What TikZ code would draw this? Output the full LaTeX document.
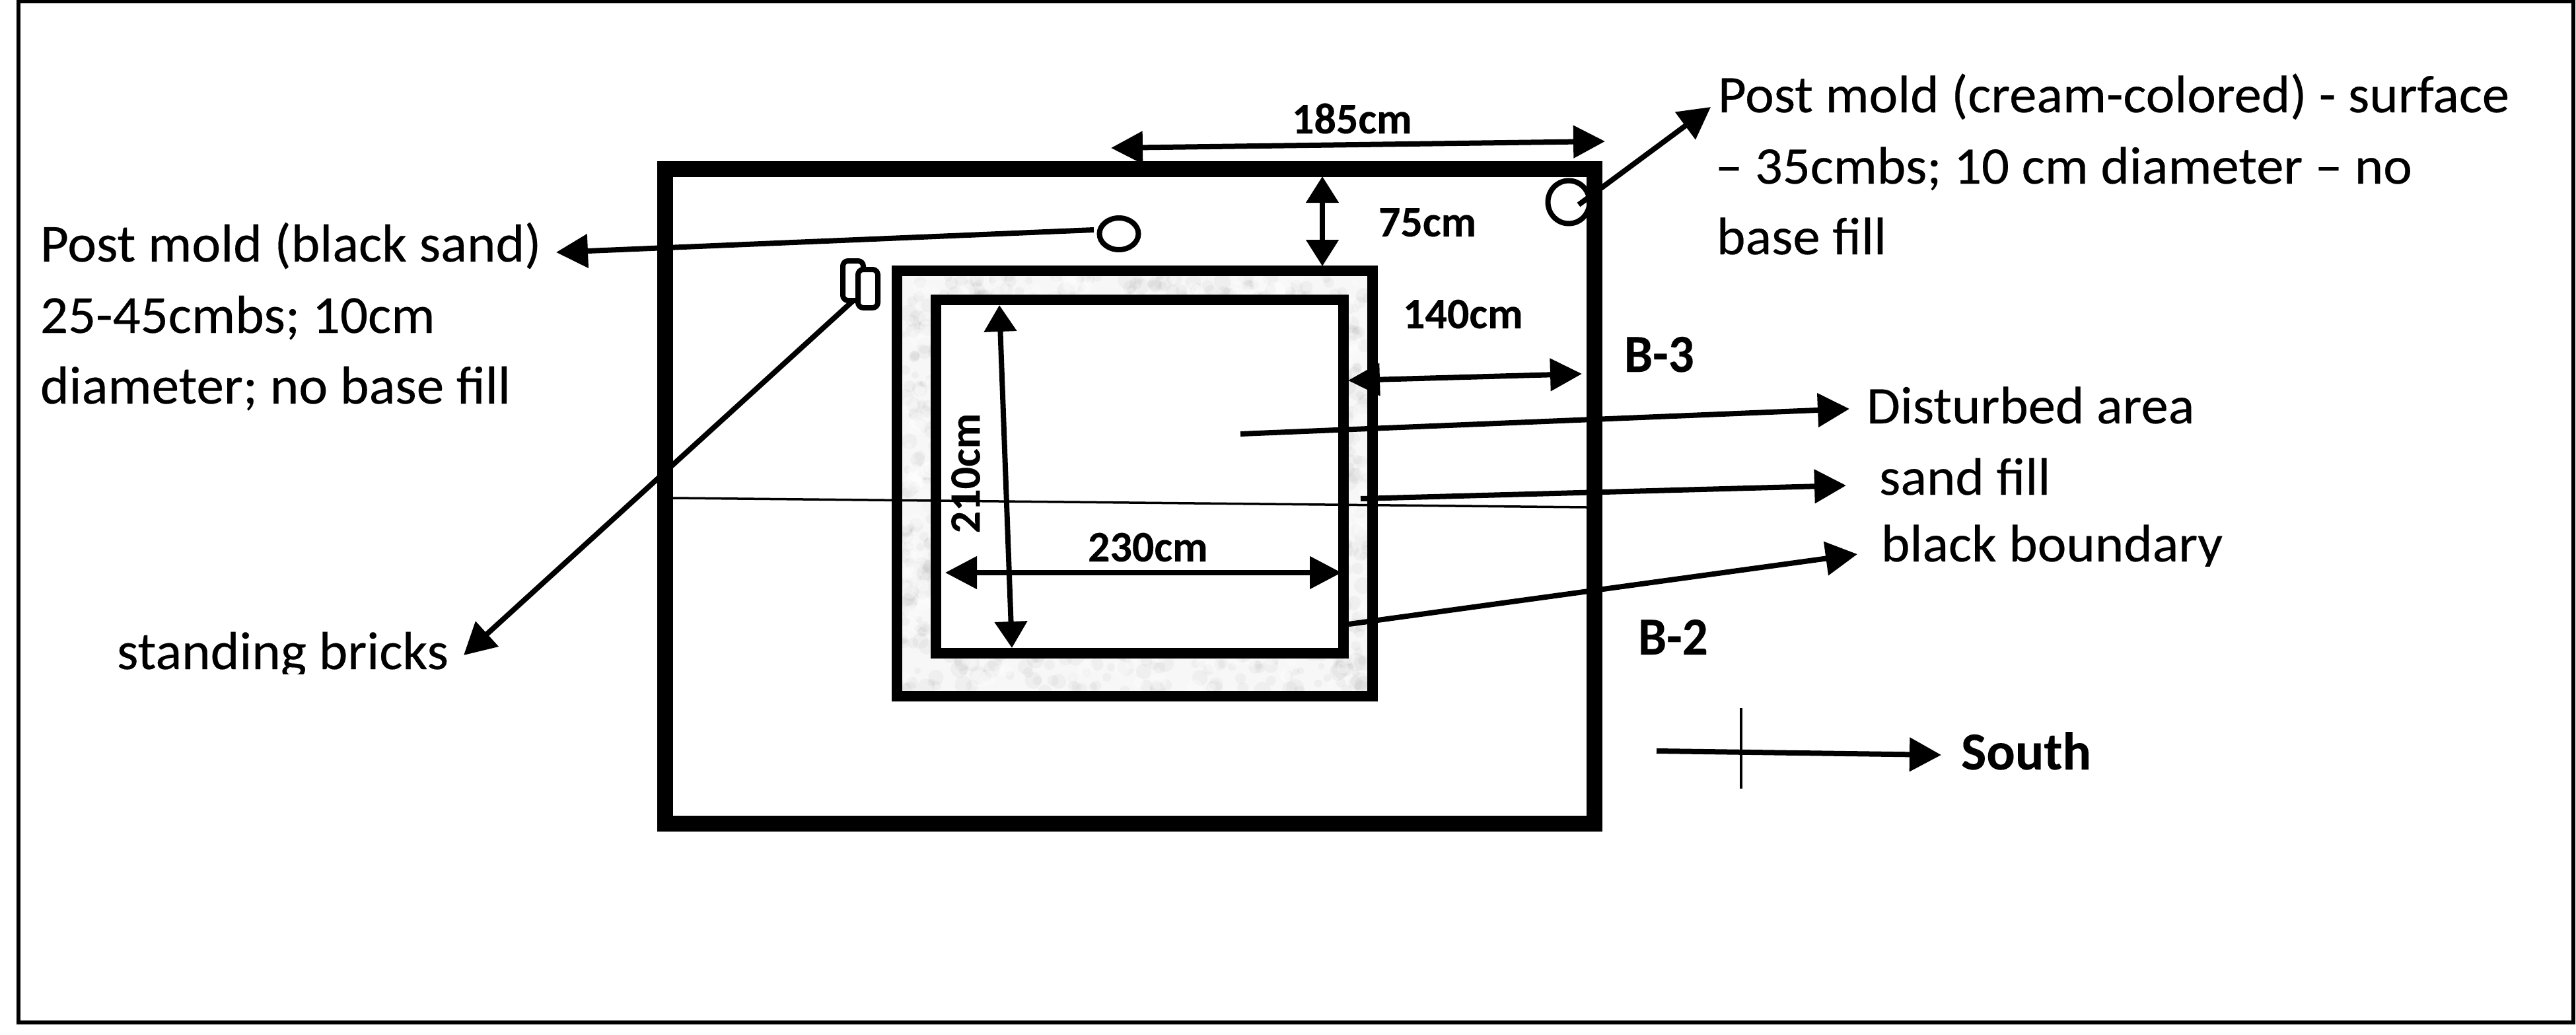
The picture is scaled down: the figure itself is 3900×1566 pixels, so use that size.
\documentclass[tikz,border=0pt]{standalone}
\usepackage{graphicx}
\usepackage{fontspec}
\setmainfont{Carlito}[FakeBold=0.25,BoldFeatures={FakeBold=0.15}]
\usetikzlibrary{arrows.meta,shapes.geometric}
\newcommand{\wx}[2][1.034]{\scalebox{#1}[1]{#2}}
\tikzset{
  frameline/.style={draw=black,line width=6.5pt},
  bigbox/.style={draw=black,line width=24pt},
  midbox/.style={draw=black,line width=16pt},
  thinline/.style={draw=black,line width=3.5pt},
  lead/.style={draw=black,line width=8pt,-{Triangle[length=48pt,width=50pt]}},
  dimarrow/.style={draw=black,line width=8pt,{Triangle[length=48pt,width=48pt]}-{Triangle[length=48pt,width=48pt]}},
  dimthin/.style={draw=black,line width=8pt,{Triangle[length=40pt,width=48pt]}-{Triangle[length=40pt,width=48pt]}},
  mold/.style={shape=ellipse,draw=black,line width=8pt,inner sep=0pt,outer sep=0pt},
  brick/.style={shape=rectangle,draw=black,fill=white,line width=8pt,rounded corners=8pt,inner sep=0pt,outer sep=0pt},
  txt/.style={anchor=base west,inner sep=0pt,outer sep=0pt,font=\fontsize{80}{80}\selectfont},
  ltxt/.style={anchor=base west,inner sep=0pt,outer sep=0pt,font=\fontsize{81}{81}\selectfont},
  btxt/.style={anchor=base west,inner sep=0pt,outer sep=0pt,font=\bfseries\fontsize{66}{66}\selectfont},
  bbtxt/.style={anchor=base west,inner sep=0pt,outer sep=0pt,font=\bfseries\fontsize{81}{81}\selectfont},
}
\begin{document}
\begin{tikzpicture}[x=1pt,y=-1pt]
\useasboundingbox (0,0) rectangle (3900,1566);
\draw[frameline] (28,2) rectangle (3896,1548);
\draw[bigbox] (1007,256) rectangle (2414,1247);
% sand fill
\fill[gray!6] (1358,410) rectangle (2078,1054);
\pgfmathsetseed{11}
\foreach \i in {1,...,1400}{
  \pgfmathsetmacro{\px}{1366+rnd*704}
  \pgfmathsetmacro{\py}{418+rnd*629}
  \pgfmathsetmacro{\pr}{5+rnd*9}
  \fill[black,opacity=.03] (\px,\py) circle (\pr pt);
}
\foreach \i in {1,...,500}{
  \pgfmathsetmacro{\px}{1366+rnd*704}
  \pgfmathsetmacro{\py}{418+rnd*629}
  \pgfmathsetmacro{\pr}{5+rnd*9}
  \fill[white,opacity=.35] (\px,\py) circle (\pr pt);
}
\draw[midbox] (1358,410) rectangle (2078,1054);
\draw[midbox,fill=white] (1417,454) rectangle (2034,989);
\draw[thinline] (1019,754) -- (2402,768);

% features
\node[mold,minimum width=59pt,minimum height=48pt] (pmblack) at (1694,354) {};
\node[mold,minimum width=63pt,minimum height=65pt] (pmcream) at (2375,306) {};
\node[brick,minimum width=31pt,minimum height=60pt] (brickA) at (1291.5,425) {};
\node[brick,minimum width=30pt,minimum height=58pt] (brickB) at (1314,437) {};

% coordinates
\coordinate (pmblackS) at (1656,348);
\coordinate (pmblackT) at (842,382);
\coordinate (pmcreamS) at (2390,310);
\coordinate (pmcreamT) at (2590,162);
\coordinate (brickS) at (1293,454);
\coordinate (brickT) at (702,992);
\coordinate (distS) at (1878,657);
\coordinate (distT) at (2800,619);
\coordinate (sandS) at (2060,755);
\coordinate (sandT) at (2795,735);
\coordinate (bndS) at (2042,945);
\coordinate (bndT) at (2812,839);
\coordinate (soS) at (2508,1137);
\coordinate (soT) at (2939,1143);
\coordinate (crossA) at (2636,1072);
\coordinate (crossB) at (2636,1194);
\coordinate (d185a) at (1682,224);
\coordinate (d185b) at (2430,214);
\coordinate (d75a) at (2002,267);
\coordinate (d75b) at (2002,403);
\coordinate (d140a) at (2041,576);
\coordinate (d140b) at (2395,566);
\coordinate (d230a) at (1431,867);
\coordinate (d230b) at (2031,867);
\coordinate (d210a) at (1513,462);
\coordinate (d210b) at (1532,981);

% leaders
\draw[lead] (pmblackS) -- (pmblackT);
\draw[lead] (pmcreamS) -- (pmcreamT);
\draw[lead] (brickS) -- (brickT);
\draw[lead] (distS) -- (distT);
\draw[lead] (sandS) -- (sandT);
\draw[lead] (bndS) -- (bndT);
\draw[lead] (soS) -- (soT);
\draw[thinline] (crossA) -- (crossB);
% dimensions
\draw[dimarrow] (d185a) -- (d185b);
\draw[dimthin] (d75a) -- (d75b);
\draw[dimarrow] (d140a) -- (d140b);
\draw[dimarrow] (d230a) -- (d230b);
\draw[dimthin] (d210a) -- (d210b);

% dimension labels
\node[btxt] (t185) at (1956,202) {185cm};
\node[btxt] (t75) at (2087,358) {75cm};
\node[btxt] (t140) at (2124,497) {140cm};
\node[btxt] (t230) at (1647,850) {230cm};
\node[btxt,anchor=center,rotate=90] (t210) at (1462,716.5) {210cm};

% labels
\node[ltxt] (lblackA) at (61,396) {\wx[1.025]{Post mold (black sand)}};
\node[ltxt] (lblackB) at (61,504) {\wx[1.025]{25-45cmbs; 10cm}};
\node[ltxt] (lblackC) at (61,611) {\wx[1.025]{diameter; no base fill}};
\begin{scope}
\clip (0,900) rectangle (800,1020);
\node[ltxt] (lbrick) at (177,1013) {\wx[1.025]{standing bricks}};
\end{scope}
\node[txt] (lcreamA) at (2601,170) {\wx{Post mold (cream-colored) - surface}};
\node[txt] (lcreamB) at (2597,278) {\wx{– 35cmbs; 10 cm diameter – no}};
\node[txt] (lcreamC) at (2599,385) {\wx{base fill}};
\node[txt] (ldist) at (2826,641) {\wx{Disturbed area}};
\node[txt] (lsand) at (2845,749) {\wx{sand fill}};
\begin{scope}
\clip (2840,760) rectangle (3500,857);
\node[txt] (lbnd) at (2848,850) {\wx{black boundary}};
\end{scope}
\node[bbtxt] (lb3) at (2459,563) {\wx[.95]{B-3}};
\node[bbtxt] (lb2) at (2480,991) {\wx[.95]{B-2}};
\node[bbtxt] (lsouth) at (2969,1165) {South};
\end{tikzpicture}
\end{document}
